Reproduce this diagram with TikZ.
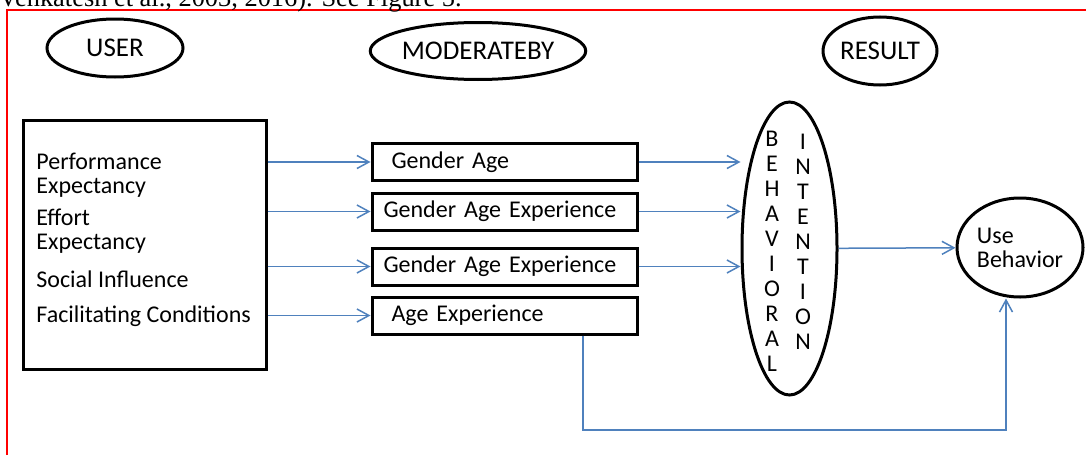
\documentclass[tikz,border=0pt]{standalone}
\usepackage{fontspec}
\setmainfont{Carlito}
\newfontfamily\timesfont{Liberation Serif}
\usetikzlibrary{shapes.geometric,arrows.meta}
\definecolor{linkblue}{RGB}{79,129,189}

\begin{document}
\begin{tikzpicture}[x=0.5pt,y=-0.5pt,
    every node/.style={font=\fontsize{12}{12}\selectfont},
    head/.style={draw,ellipse,line width=1.5pt,inner sep=0pt,font=\fontsize{13.5}{13.5}\selectfont},
    modbox/.style={draw,line width=1.5pt,minimum width=132.5pt,minimum height=18.5pt,
        text width=121pt,inner xsep=5.75pt,inner ysep=0pt,align=left},
    letters/.style={align=center,inner sep=0pt,font=\fontsize{12}{12.5}\selectfont},
    flow/.style={linkblue,line width=0.75pt,-{Straight Barb[length=6pt,width=6.5pt]}}]
    \useasboundingbox (0,0) rectangle (1086,455);
    \draw[red,line width=0.75pt] (7,455) -- (7,10) -- (1086,10);
    \node[anchor=base east,inner sep=0pt,font=\timesfont\fontsize{13.2}{14}\selectfont] (cite) at (462,6)
        {Venkatesh et al., 2003, 2016). See Figure 5.};
    \node[head,minimum width=68pt,minimum height=29pt] (huser) at (115,48) {USER};
    \node[head,minimum width=104.5pt,minimum height=28.5pt] (hmod) at (478,51) {MODERATEBY};
    \node[head,minimum width=57pt,minimum height=34pt] (hres) at (880,51) {RESULT};
    \node[draw,line width=1.5pt,minimum width=121.5pt,minimum height=124.5pt] (ubox) at (144.5,244.5) {};
    \node[anchor=west,inner sep=0pt,align=left] (pe) at (36,175) {Performance\\Expectancy};
    \node[anchor=west,inner sep=0pt,align=left] (ee) at (36,231) {Effort\\Expectancy};
    \node[anchor=west,inner sep=0pt] (si) at (36,279) {Social Influence};
    \node[anchor=west,inner sep=0pt] (fc) at (36,316) {Facilitating Conditions};
    \node[modbox] (m1) at (504.5,162) {\hspace{4pt}Gender Age};
    \node[modbox] (m2) at (504.5,211.5) {Gender Age Experience};
    \node[modbox] (m3) at (504.5,266.5) {Gender Age Experience};
    \node[modbox] (m4) at (504.5,315.5) {\hspace{4pt}Age Experience};
    \node[draw,ellipse,line width=1.5pt,minimum width=47.5pt,minimum height=146.5pt] (bi) at (789.5,248.5) {};
    \node[letters] (beh) at (772,251.5) {B\\E\\H\\A\\V\\I\\O\\R\\A\\L};
    \node[letters] (int) at (803,242) {I\\N\\T\\E\\N\\T\\I\\O\\N};
    \node[draw,ellipse,line width=1.5pt,minimum width=63pt,minimum height=49.5pt,inner sep=0pt,align=left] (usebeh) at (1020,247.5) {Use\\Behavior};
    \draw[flow] (ubox.east |- m1) -- (m1);
    \draw[flow] (ubox.east |- m2) -- (m2);
    \draw[flow] (ubox.east |- m3) -- (m3);
    \draw[flow] (ubox.east |- m4) -- (m4);
    \draw[flow] (m1) -- (m1 -| bi.west);
    \draw[flow] (m2) -- (m2 -| bi.west);
    \draw[flow] (m3) -- (m3 -| bi.west);
    \draw[flow] (bi) -- (usebeh);
    \coordinate (c1) at (583,430);
    \coordinate (c2) at (1006,430);
    \draw[flow] (m4.south -| c1) -- (c1) -- (c2) -- (c2 |- usebeh.south);
\end{tikzpicture}
\end{document}
